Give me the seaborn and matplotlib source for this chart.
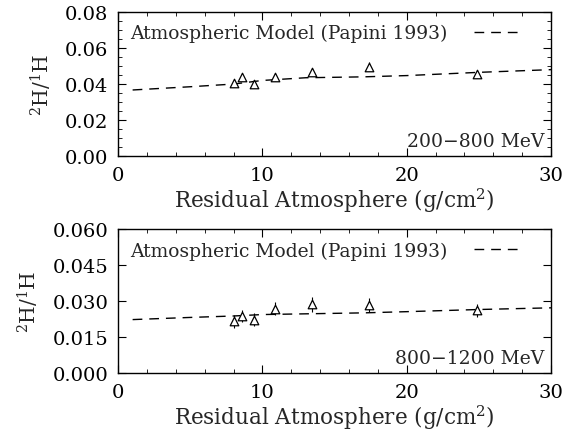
import matplotlib
matplotlib.use("Agg")
import matplotlib.pyplot as plt
import seaborn as sns
import numpy as np
import pandas as pd
from matplotlib.ticker import MultipleLocator

sns.set_theme(style="ticks")
plt.rcParams['font.family'] = ['DejaVu Serif']
plt.rcParams['mathtext.fontset'] = 'dejavuserif'

# Data points (residual atmosphere g/cm^2)
depth = [8.0, 8.6, 9.4, 10.9, 13.4, 17.4, 24.9]
ratio_low = [0.0404, 0.0438, 0.0400, 0.0441, 0.0466, 0.0497, 0.0456]
err_low = [0.0022, 0.0022, 0.0022, 0.0022, 0.0022, 0.0024, 0.0022]
ratio_high = [0.0216, 0.0240, 0.0223, 0.0269, 0.0286, 0.0283, 0.0261]
err_high = [0.0028, 0.0025, 0.0028, 0.0028, 0.0032, 0.0030, 0.0028]

# Atmospheric model (Papini 1993)
model_depth = [1, 5, 8, 10, 13, 17, 20, 25, 30]
model_low = [0.0367, 0.0385, 0.0400, 0.0420, 0.0435, 0.0440, 0.0447, 0.0465, 0.0480]
model_high = [0.0223, 0.0232, 0.0238, 0.0244, 0.0247, 0.0251, 0.0256, 0.0265, 0.0272]

yticks_low = [0.00, 0.02, 0.04, 0.06, 0.08]
yticks_high = [0.000, 0.015, 0.030, 0.045, 0.060]
xticks = [0, 10, 20, 30]

fig = plt.figure(figsize=(5.71, 4.35), dpi=100)
ax1 = fig.add_axes([0.207, 0.639, 0.758, 0.331])
ax2 = fig.add_axes([0.207, 0.140, 0.758, 0.331])

panels = [
    (ax1, ratio_low, err_low, model_low, yticks_low, "%.2f", "200\u2212800 MeV", 0.005),
    (ax2, ratio_high, err_high, model_high, yticks_high, "%.3f", "800\u22121200 MeV", None),
]

for ax, r, e, m, yt, fmt, lab, minor in panels:
    dfm = pd.DataFrame({"x": model_depth, "y": m})
    sns.lineplot(data=dfm, x="x", y="y", ax=ax, color="black", lw=1.0,
                 linestyle=(0, (7, 5)), label="Atmospheric Model (Papini 1993)")
    dfp = pd.DataFrame({"x": depth, "y": r})
    ax.errorbar(depth, r, yerr=e, fmt="none", ecolor="black", elinewidth=0.8, capsize=0)
    sns.scatterplot(data=dfp, x="x", y="y", ax=ax, marker="^", s=38,
                    facecolor="white", edgecolor="black", linewidth=0.9, zorder=3)
    ax.set_xlim(0, 30)
    ax.set_ylim(yt[0], yt[-1])
    ax.set_xticks(xticks)
    ax.set_yticks(yt)
    ax.set_yticklabels([fmt % v for v in yt])
    ax.xaxis.set_minor_locator(MultipleLocator(2))
    if minor:
        ax.yaxis.set_minor_locator(MultipleLocator(minor))
    ax.tick_params(which="both", direction="in", top=True, right=True,
                   labelsize=14, colors="black")
    ax.tick_params(which="major", length=6, width=0.8, pad=7)
    ax.tick_params(which="minor", length=3, width=0.6)
    for s in ax.spines.values():
        s.set_linewidth(1.0)
        s.set_color("black")
    ax.set_xlabel("Residual Atmosphere (g/cm$^2$)", fontsize=15.5, labelpad=1)
    ax.set_ylabel("$^2$H/$^1$H", fontsize=14.5, labelpad=8)
    leg = ax.legend(loc="upper left", frameon=False, markerfirst=False,
                    fontsize=13.5, handlelength=2.6, borderaxespad=0.25,
                    handletextpad=1.4)
    ax.text(0.985, 0.04, lab, transform=ax.transAxes, ha="right", va="bottom",
            fontsize=13.5)

fig.savefig("out.png", dpi=100)
